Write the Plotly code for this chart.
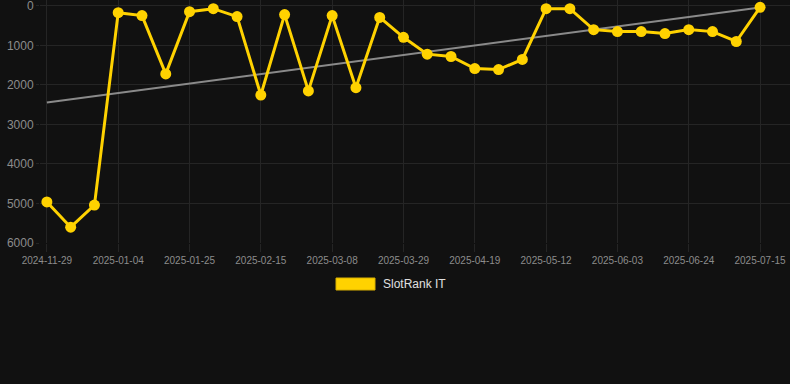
import plotly.graph_objects as go

dates = [
    "2024-11-29", "2024-12-11", "2024-12-23", "2025-01-04", "2025-01-11", "2025-01-18",
    "2025-01-25", "2025-02-01", "2025-02-08", "2025-02-15", "2025-02-22", "2025-03-01",
    "2025-03-08", "2025-03-15", "2025-03-22", "2025-03-29", "2025-04-05", "2025-04-12",
    "2025-04-19", "2025-04-27", "2025-05-04", "2025-05-12", "2025-05-19", "2025-05-27",
    "2025-06-03", "2025-06-10", "2025-06-17", "2025-06-24", "2025-07-01", "2025-07-08",
    "2025-07-15",
]
rank_it = [
    4960, 5600, 5040, 170, 245, 1720, 145, 70, 270, 2255, 220, 2150,
    245, 2070, 290, 795, 1220, 1280, 1585, 1610, 1355, 70, 70, 600,
    650, 650, 700, 600, 650, 900, 35,
]
trend_x = [dates[0], dates[-1]]
trend_y = [2445, 40]
y_ticks = [0, 1000, 2000, 3000, 4000, 5000, 6000]
x_tick_labels = dates[::3]
series_name = "SlotRank IT"

gold = "#FFD200"
grid = "#252525"
bg = "#111111"

fig = go.Figure()
fig.add_trace(go.Scatter(
    x=trend_x, y=trend_y, mode="lines",
    line=dict(color="#8a8a8a", width=2), showlegend=False, hoverinfo="skip",
))
fig.add_trace(go.Scatter(
    x=dates, y=rank_it, mode="lines+markers", name=series_name,
    line=dict(color=gold, width=3),
    marker=dict(color=gold, size=11),
    showlegend=False,
))

L, T, PH, PW = 40, 0, 243, 750
def px(x):
    return (x - L) / PW
def py(y):
    return (PH - y) / PH

fig.add_shape(type="rect", xref="paper", yref="paper",
              x0=px(336), x1=px(375), y0=py(290), y1=py(278),
              fillcolor=gold, line=dict(color="#d9b000", width=1))
fig.add_annotation(xref="paper", yref="paper", x=px(381), y=py(284),
                   text=series_name, showarrow=False, xanchor="left", yanchor="middle",
                   font=dict(family="Liberation Sans, Arial, sans-serif", size=12, color="#e0e0e0"))

fig.update_layout(
    width=790, height=384,
    margin=dict(l=L, r=0, t=T, b=384 - PH),
    paper_bgcolor=bg, plot_bgcolor=bg,
    font=dict(family="Liberation Sans, Arial, sans-serif", color="#8c8c8c"),
    showlegend=False,
    xaxis=dict(
        type="category", categoryorder="array", categoryarray=dates,
        range=[-0.29, 31.26],
        tickmode="array", tickvals=x_tick_labels, ticktext=x_tick_labels,
        tickfont=dict(size=10, color="#8c8c8c"),
        showgrid=True, gridcolor=grid, gridwidth=1,
        ticks="outside", ticklen=8, tickcolor=grid,
        zeroline=False, showline=False, ticklabeloverflow="allow",
    ),
    yaxis=dict(
        range=[6000, -150],
        tickmode="array", tickvals=y_ticks,
        tickfont=dict(size=12, color="#8c8c8c"),
        showgrid=True, gridcolor=grid, gridwidth=1,
        ticks="outside", ticklen=3, tickcolor=grid,
        zeroline=False, showline=False, ticklabeloverflow="allow",
    ),
)

fig.write_html(
    "out.html",
    config={"displayModeBar": False},
    post_script="document.body.style.margin='0';document.body.style.background='#111111';",
)
